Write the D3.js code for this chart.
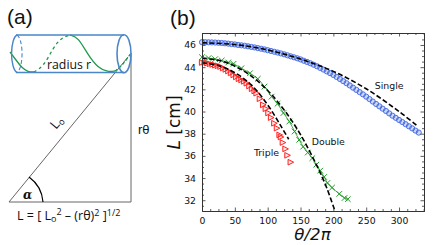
<!DOCTYPE html>
<html>
<head>
<meta charset="utf-8">
<script src="https://cdn.jsdelivr.net/npm/d3@7"></script>
<style>
  html, body { margin: 0; padding: 0; background: #fff; }
  svg { display: block; }
</style>
</head>
<body>
<svg id="chart"></svg>
<script>
const singleTheta = [0,5,10,15,20,25,30,35,40,45,50,55,60,65,70,75,80,85,90,95,100,105,110,115,120,125,130,135,140,145,150,155,160,165,170,175,180,185,190,195,200,205,210,215,220,225,230,235,240,245,250,255,260,265,270,275,280,285,290,295,300,305,310,315,320,325,330];
const singleL = [46.25,46.25,46.24,46.23,46.22,46.2,46.18,46.15,46.12,46.08,46.05,46.0,45.97,45.93,45.88,45.83,45.78,45.72,45.66,45.6,45.53,45.46,45.39,45.32,45.24,45.16,45.07,44.98,44.89,44.8,44.7,44.58,44.47,44.35,44.22,44.08,43.93,43.78,43.62,43.46,43.3,43.12,42.93,42.74,42.55,42.35,42.15,41.95,41.75,41.55,41.34,41.12,40.9,40.68,40.47,40.26,40.05,39.83,39.62,39.43,39.24,39.05,38.86,38.67,38.48,38.28,38.1];

const doubleTheta = [0,10,20,30,40,48,60,73,85,95,106,115,124,133,141,148,154,161,168,174,180,186,191,198,209,217,222];
const doubleL = [44.9,44.82,44.72,44.6,44.42,44.3,43.9,43.45,42.95,42.25,41.34,40.7,39.87,39.1,38.2,37.45,36.83,36.3,35.8,35.2,34.67,34.1,33.56,33.14,32.57,32.2,32.1];

const tripleTheta = [0,4,8,12,16,20,24,28,32,36,40,44,48,52,56,60,64,68,72,76,80,83,88,93,97,101,105,110,114,118,120,123,127,130,135];
const tripleL = [44.42,44.4,44.36,44.3,44.24,44.18,44.12,44.05,43.92,43.8,43.65,43.48,43.3,43.12,42.95,42.85,42.72,42.55,42.3,42.05,41.85,41.65,41.15,40.6,40.25,39.87,39.45,38.94,38.5,37.89,37.7,37.2,36.63,36.05,35.43];

const fitSingleTheta = [0,50,100,150,200,250,300,328];
const fitSingleL = [46.2,46.04,45.55,44.73,43.62,42.05,40.0,38.7];
const fitDoubleTheta = [0,25,50,75,100,125,150,175,190,202];
const fitDoubleL = [44.8,44.62,44.09,43.2,41.9,40.15,37.92,35.1,33.1,31.1];
const fitTripleTheta = [0,25,50,75,100,120,132];
const fitTripleL = [44.4,44.15,43.5,42.4,40.6,38.7,37.5];

const xTicks = [0,50,100,150,200,250,300];
const yTicks = [32,34,36,38,40,42,44,46];

const width = 436, height = 245;
const margin = {top: 33, right: 12, bottom: 34, left: 202};
const svg = d3.select('#chart').attr('width', width).attr('height', height);

const xscale = d3.scaleLinear().domain([0, 338]).range([margin.left, width - margin.right]);
const yscale = d3.scaleLinear().domain([31.03, 47.08]).range([height - margin.bottom, margin.top]);

const chart = svg.append('g');

// dashed fits go over the markers
const fitLine = d3.line()
    .x(d => xscale(d[0]))
    .y(d => yscale(d[1]))
    .curve(d3.curveCatmullRom);

const zipped = (xs, ys) => xs.map((v, i) => [v, ys[i]]);

chart.selectAll('.single')
    .data(zipped(singleTheta, singleL))
    .enter().append('circle')
    .attr('cx', d => xscale(d[0]))
    .attr('cy', d => yscale(d[1]))
    .attr('r', 2.6)
    .attr('fill', 'rgba(65,105,225,0.25)')
    .attr('stroke', '#4169e1')
    .attr('stroke-width', 0.9);

chart.append('path')
    .attr('d', fitLine(zipped(doubleTheta, doubleL)))
    .attr('fill', 'none')
    .attr('stroke', '#2ca02c')
    .attr('stroke-width', 0.9);

chart.selectAll('.double')
    .data(zipped(doubleTheta, doubleL))
    .enter().append('path')
    .attr('transform', d => `translate(${xscale(d[0])},${yscale(d[1])})`)
    .attr('d', 'M-2.8,-2.8L2.8,2.8M-2.8,2.8L2.8,-2.8')
    .attr('fill', 'none')
    .attr('stroke', '#1f9a2a')
    .attr('stroke-width', 1);

chart.selectAll('.triple')
    .data(zipped(tripleTheta, tripleL))
    .enter().append('path')
    .attr('transform', d => `translate(${xscale(d[0])},${yscale(d[1])})`)
    .attr('d', 'M-2.6,-2.8L3,0L-2.6,2.8Z')
    .attr('fill', 'rgba(255,60,60,0.12)')
    .attr('stroke', '#ff2020')
    .attr('stroke-width', 1);

[[fitSingleTheta, fitSingleL], [fitDoubleTheta, fitDoubleL], [fitTripleTheta, fitTripleL]].forEach(f => {
    chart.append('path')
        .attr('d', fitLine(zipped(f[0], f[1])))
        .attr('fill', 'none')
        .attr('stroke', 'black')
        .attr('stroke-width', 1.6)
        .attr('stroke-dasharray', '5,2.4');
});

// axes, ticks on all four sides pointing in
const styleAxis = g => {
    g.selectAll('.domain').attr('stroke', '#333').attr('stroke-width', 1);
    g.selectAll('.tick line').attr('stroke', '#333').attr('stroke-width', 0.8);
    g.selectAll('text').attr('font-family', 'DejaVu Sans').attr('font-size', 9.3).attr('fill', '#111');
};
const xMinor = d3.range(0, 338, 12.5).filter(v => v % 50 !== 0);
const yMinor = d3.range(31.5, 47, 0.5).filter(v => v % 2 !== 0);
const bottomY = height - margin.bottom;
const rightX = width - margin.right;

const addAxis = (axisFn, scale, ticks, minor, pos, labels) => {
    svg.append('g').attr('transform', pos)
        .call(axisFn(scale).tickValues(ticks).tickSizeInner(-3.5).tickSizeOuter(0).tickPadding(labels ? 6 : 0)
            .tickFormat(labels ? d3.format('d') : ''))
        .call(styleAxis);
    svg.append('g').attr('transform', pos)
        .call(axisFn(scale).tickValues(minor).tickSizeInner(-2).tickSizeOuter(0).tickFormat(''))
        .call(styleAxis);
};
addAxis(d3.axisBottom, xscale, xTicks, xMinor, `translate(0,${bottomY})`, true);
addAxis(d3.axisTop, xscale, xTicks, xMinor, `translate(0,${margin.top})`, false);
addAxis(d3.axisLeft, yscale, yTicks, yMinor, `translate(${margin.left},0)`, true);
addAxis(d3.axisRight, yscale, yTicks, yMinor, `translate(${rightX},0)`, false);

const addText = (x, y, str, size, family, extra) => {
    const t = svg.append('text')
        .attr('x', x).attr('y', y)
        .attr('font-size', size)
        .attr('font-family', family)
        .attr('fill', '#111')
        .text(str);
    if (extra) extra(t);
    return t;
};

addText(xscale(263), yscale(42.04), 'Single', 9.4, 'DejaVu Sans');
addText(xscale(167), yscale(36.99), 'Double', 9.4, 'DejaVu Sans');
addText(xscale(79), yscale(36.0), 'Triple', 9.4, 'DejaVu Sans');

addText(180, 122.5, '', 17, 'DejaVu Sans', t => t
    .attr('text-anchor', 'middle')
    .attr('transform', 'rotate(-90 180 122.5)')
    .call(s => {
        s.append('tspan').attr('font-style', 'italic').text('L');
        s.append('tspan').text(' [cm]');
    }));
addText(312.5, 240, 'θ/2π', 16.6, 'DejaVu Sans', t => t.attr('text-anchor', 'middle').attr('font-style', 'italic'));

addText(7, 24, '(a)', 21, 'Liberation Sans');
addText(170, 25, '(b)', 21, 'Liberation Sans');

// panel (a): schematic of the wound cylinder
const blue = '#4a86c8', green = '#1f9a4a', grey = '#666';
const sketch = svg.append('g').attr('fill', 'none');

sketch.append('path').attr('d', 'M9,202L131,202L131,53').attr('stroke', grey).attr('stroke-width', 1);
sketch.append('path').attr('d', 'M9,202L128,57').attr('stroke', grey).attr('stroke-width', 1);
sketch.append('path').attr('d', 'M29,177A34,34 0 0 1 43,202').attr('stroke', 'black').attr('stroke-width', 1.2);

const curve = d3.line().curve(d3.curveBasis);
sketch.append('path').attr('d', curve([[10,52],[16,60],[22,68],[28,72],[34,72]]))
    .attr('stroke', green).attr('stroke-width', 1.3);
sketch.append('path').attr('d', curve([[34,72],[44,66],[53,48],[61,38],[70,35]]))
    .attr('stroke', green).attr('stroke-width', 1.3).attr('stroke-dasharray', '3,3');
sketch.append('path').attr('d', curve([[70,35],[78,37],[88,55],[98,68],[108,72],[115,71]]))
    .attr('stroke', green).attr('stroke-width', 1.3);
sketch.append('path').attr('d', curve([[115,71],[122,66],[131,53]]))
    .attr('stroke', green).attr('stroke-width', 1.3).attr('stroke-dasharray', '3,2');

sketch.append('path').attr('d', 'M16,35L124,35M16,72.5L124,72.5').attr('stroke', blue).attr('stroke-width', 1.4);
sketch.append('path').attr('d', 'M17,35A6.5,19 0 0 0 17,72.5').attr('stroke', blue).attr('stroke-width', 1.4);
sketch.append('path').attr('d', 'M17,35A6,19 0 0 1 17,72.5').attr('stroke', blue).attr('stroke-width', 1.1).attr('stroke-dasharray', '4,2.5');
sketch.append('ellipse').attr('cx', 124).attr('cy', 53.7).attr('rx', 7).attr('ry', 19).attr('stroke', blue).attr('stroke-width', 1.6);

addText(47, 69, 'radius r', 12.3, 'Open Sans');
addText(138, 134, 'rθ', 13, 'Liberation Sans');
addText(56, 130, '', 13, 'Open Sans', t => t.attr('transform', 'rotate(-50 56 130)')
    .call(s => {
        s.append('tspan').text('L');
        s.append('tspan').attr('font-size', 9).attr('dy', 2).text('o');
    }));
addText(23, 199, 'α', 12, 'DejaVu Serif', t => t.attr('font-weight', 'bold').attr('font-style', 'italic'));

const formula = addText(17, 220, '', 12.5, 'Open Sans');
formula.append('tspan').text('L = [ L');
formula.append('tspan').attr('font-size', 9).attr('dy', 2).text('o');
formula.append('tspan').attr('font-size', 9).attr('dy', -7).text('2');
formula.append('tspan').attr('dy', 5).text(' – (rθ)');
formula.append('tspan').attr('font-size', 9).attr('dy', -4).text('2');
formula.append('tspan').attr('dy', 4).text(' ]');
formula.append('tspan').attr('font-size', 9).attr('dy', -4).text('1/2');
</script>
</body>
</html>
